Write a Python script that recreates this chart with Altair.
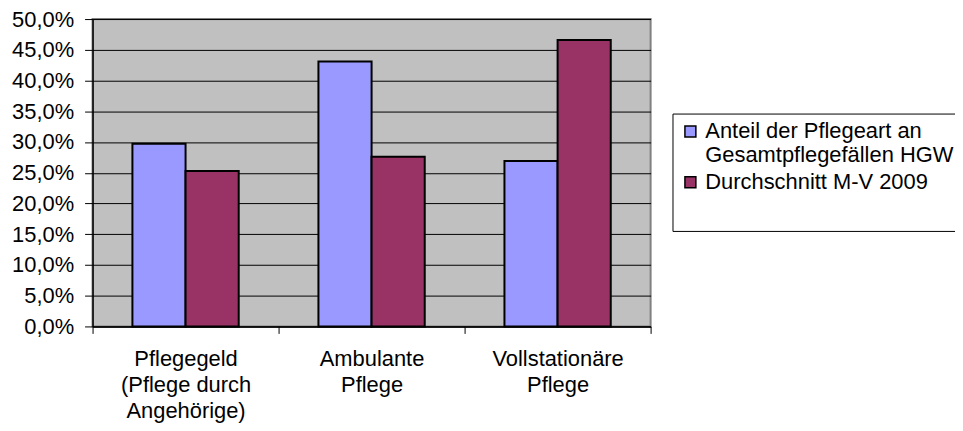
import altair as alt
import pandas as pd

categories = ["Pflegegeld\n(Pflege durch\nAngehörige)", "Ambulante\nPflege", "Vollstationäre\nPflege"]
series_names = ["Anteil der Pflegeart an\nGesamtpflegefällen HGW", "Durchschnitt M-V 2009"]
anteil_hgw = [0.297, 0.431, 0.269]
durchschnitt_mv = [0.253, 0.276, 0.466]
colors = ["#9999FF", "#993366"]
y_ticks = [0.0, 0.05, 0.10, 0.15, 0.20, 0.25, 0.30, 0.35, 0.40, 0.45, 0.50]

rows = []
for c, a, d in zip(categories, anteil_hgw, durchschnitt_mv):
    rows.append({"Kategorie": c, "Serie": series_names[0], "Wert": a})
    rows.append({"Kategorie": c, "Serie": series_names[1], "Wert": d})
df = pd.DataFrame(rows)

FONT = "Liberation Sans"

chart = alt.Chart(df).mark_bar(stroke="black", strokeWidth=2).encode(
    x=alt.X("Kategorie:N", sort=categories, title=None,
            scale=alt.Scale(paddingInner=0, paddingOuter=0),
            axis=alt.Axis(labelAngle=0, tickBand="extent", labelExpr="split(datum.label, '\\n')",
                          labelFont=FONT, labelFontSize=22, labelColor="black", labelLineHeight=26.5,
                          labelPadding=15, labelBaseline="top",
                          tickColor="black", tickSize=7, domainColor="black", domainWidth=1.5,
                          grid=False, labelLimit=300)),
    xOffset=alt.XOffset("Serie:N", sort=series_names,
                        scale=alt.Scale(paddingInner=0, paddingOuter=0.75)),
    y=alt.Y("Wert:Q", title=None,
            scale=alt.Scale(domain=[0, 0.5], nice=False),
            axis=alt.Axis(values=y_ticks, labelExpr="replace(format(datum.value, '.1%'), '.', ',')",
                          labelFont=FONT, labelFontSize=22, labelColor="black", labelPadding=11,
                          tickColor="black", tickSize=8, domainColor="black", domainWidth=1.5,
                          grid=True, gridColor="black", gridWidth=1, gridOpacity=1)),
    color=alt.Color("Serie:N", sort=series_names,
                    scale=alt.Scale(domain=series_names, range=colors),
                    legend=alt.Legend(orient="none", legendX=583, legendY=95,
                                      title=" ", titleOrient="bottom", titleFontSize=22,
                                      titlePadding=10,
                                      fillColor="white", strokeColor="black", padding=7,
                                      labelFont=FONT, labelFontSize=22, labelColor="black",
                                      labelExpr="split(datum.label, '\\n')", labelLimit=400,
                                      labelOffset=4, rowPadding=5,
                                      symbolType="square", symbolSize=121,
                                      symbolStrokeColor="black", symbolStrokeWidth=1.5,
                                      symbolOpacity=1)),
).properties(
    width=561, height=309,
    autosize=alt.AutoSizeParams(type="none"),
    padding={"left": 85, "top": 10, "right": 306, "bottom": 104},
).configure_view(
    fill="#C0C0C0", stroke="#808080", strokeWidth=2
)

chart.save("out.html", embed_options={"renderer": "svg", "actions": False})
